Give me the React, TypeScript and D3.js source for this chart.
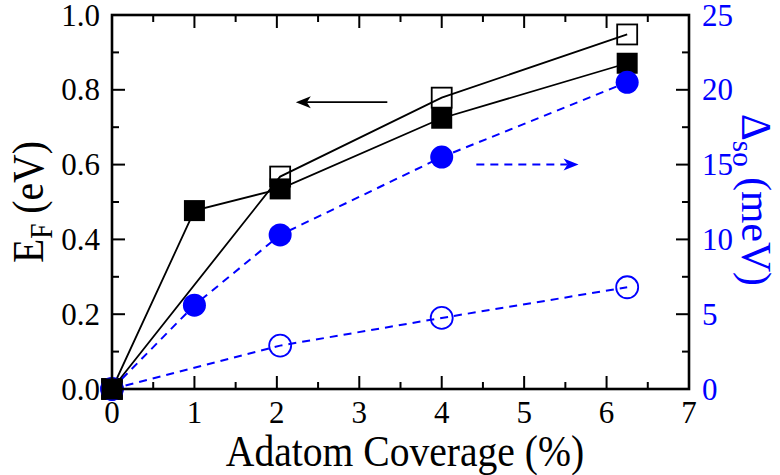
import React from "react";
import * as d3 from "d3";

// ---- data ----
const coverageFilledSq = [0, 1, 2.04, 4, 6.25];
const efFilledSq = [0, 0.477, 0.535, 0.724, 0.871];
const coverageOpenSq = [0, 2.04, 4, 6.25];
const efOpenSq = [0, 0.568, 0.779, 0.948];
const coverageFilledCirc = [0, 1, 2.04, 4, 6.25];
const soFilledCirc = [0, 5.6, 10.3, 15.5, 20.5];
const coverageOpenCirc = [0, 2.04, 4, 6.25];
const soOpenCirc = [0, 2.9, 4.75, 6.8];

const xTicks = [0, 1, 2, 3, 4, 5, 6, 7];
const xMinor = [0.5, 1.5, 2.5, 3.5, 4.5, 5.5, 6.5];
const yLeftTicks = [0, 0.2, 0.4, 0.6, 0.8, 1.0];
const yLeftMinor = [0.1, 0.3, 0.5, 0.7, 0.9];
const yRightTicks = [0, 5, 10, 15, 20, 25];
const yRightMinor = [2.5, 7.5, 12.5, 17.5, 22.5];

// annotation arrows (data coords)
const blackArrow = { y: 0.767, from: 3.34, to: 2.23 };
const blueArrow = { y: 15.0, from: 4.42, to: 5.66 };

const BLUE = "#0000ff";
const FONT = "Liberation Serif";

export default function App() {
  const x = d3.scaleLinear().domain([0, 7]).range([112, 689]);
  const yL = d3.scaleLinear().domain([0, 1]).range([389, 15]);
  const yR = d3.scaleLinear().domain([0, 25]).range([389, 15]);
  const [x0, x1] = x.range();
  const [yb, yt] = yL.range();

  const lineL = (xs: number[], ys: number[]) =>
    d3.line<number>().x((_, i) => x(xs[i])).y((v) => yL(v))(ys) || "";
  const lineR = (xs: number[], ys: number[]) =>
    d3.line<number>().x((_, i) => x(xs[i])).y((v) => yR(v))(ys) || "";

  const MAJ = 13;
  const MIN = 7;
  const sq = 21;

  const headLeft = (tx: number, ty: number) =>
    `M${tx},${ty} L${tx + 15},${ty - 6} L${tx + 11},${ty} L${tx + 15},${ty + 6} Z`;
  const headRight = (tx: number, ty: number) =>
    `M${tx},${ty} L${tx - 15},${ty - 6} L${tx - 11},${ty} L${tx - 15},${ty + 6} Z`;

  return (
    <svg width={780} height={475} style={{ position: "absolute", left: 0, top: 0 }}>
      <rect x={0} y={0} width={780} height={475} fill="#fff" />

      {/* ticks */}
      <g stroke="#000" strokeWidth={2}>
        {xTicks.map((t) => (
          <g key={"xt" + t}>
            <line x1={x(t)} x2={x(t)} y1={yb} y2={yb - MAJ} />
            <line x1={x(t)} x2={x(t)} y1={yt} y2={yt + MAJ} />
          </g>
        ))}
        {xMinor.map((t) => (
          <g key={"xm" + t}>
            <line x1={x(t)} x2={x(t)} y1={yb} y2={yb - MIN} />
            <line x1={x(t)} x2={x(t)} y1={yt} y2={yt + MIN} />
          </g>
        ))}
        {yLeftTicks.map((t) => (
          <line key={"yl" + t} x1={x0} x2={x0 + MAJ} y1={yL(t)} y2={yL(t)} />
        ))}
        {yLeftMinor.map((t) => (
          <line key={"ylm" + t} x1={x0} x2={x0 + MIN} y1={yL(t)} y2={yL(t)} />
        ))}
        {yRightTicks.map((t) => (
          <line key={"yr" + t} x1={x1} x2={x1 - MAJ} y1={yR(t)} y2={yR(t)} />
        ))}
        {yRightMinor.map((t) => (
          <line key={"yrm" + t} x1={x1} x2={x1 - MIN} y1={yR(t)} y2={yR(t)} />
        ))}
      </g>

      {/* arrows */}
      <line
        x1={x(blackArrow.from)}
        x2={x(blackArrow.to) + 11}
        y1={yL(blackArrow.y)}
        y2={yL(blackArrow.y)}
        stroke="#000"
        strokeWidth={1.8}
      />
      <path d={headLeft(x(blackArrow.to), yL(blackArrow.y))} fill="#000" />
      <line
        x1={x(blueArrow.from)}
        x2={x(blueArrow.to) - 11}
        y1={yR(blueArrow.y)}
        y2={yR(blueArrow.y)}
        stroke={BLUE}
        strokeWidth={2}
        strokeDasharray="8,6"
      />
      <path d={headRight(x(blueArrow.to), yR(blueArrow.y))} fill={BLUE} />

      {/* open squares */}
      <path d={lineL(coverageOpenSq, efOpenSq)} fill="none" stroke="#000" strokeWidth={1.8} />
      {efOpenSq.map((v, i) => (
        <rect
          key={"os" + i}
          x={x(coverageOpenSq[i]) - 10}
          y={yL(v) - 10}
          width={20}
          height={20}
          fill="none"
          stroke="#000"
          strokeWidth={1.8}
        />
      ))}

      {/* filled squares */}
      <path d={lineL(coverageFilledSq, efFilledSq)} fill="none" stroke="#000" strokeWidth={1.8} />
      {efFilledSq.map((v, i) => (
        <rect
          key={"fs" + i}
          x={x(coverageFilledSq[i]) - sq / 2}
          y={yL(v) - sq / 2}
          width={sq}
          height={sq}
          fill="#000"
        />
      ))}

      {/* open circles */}
      <path
        d={lineR(coverageOpenCirc, soOpenCirc)}
        fill="none"
        stroke={BLUE}
        strokeWidth={2}
        strokeDasharray="8,6"
      />
      {soOpenCirc.map((v, i) => (
        <circle
          key={"oc" + i}
          cx={x(coverageOpenCirc[i])}
          cy={yR(v)}
          r={11}
          fill="none"
          stroke={BLUE}
          strokeWidth={1.8}
        />
      ))}

      {/* filled circles */}
      <path
        d={lineR(coverageFilledCirc, soFilledCirc)}
        fill="none"
        stroke={BLUE}
        strokeWidth={2}
        strokeDasharray="8,6"
      />
      {soFilledCirc.map((v, i) => (
        <circle key={"fc" + i} cx={x(coverageFilledCirc[i])} cy={yR(v)} r={11.5} fill={BLUE} />
      ))}

      {/* origin square drawn on top */}
      <rect
        x={x(coverageFilledSq[0]) - sq / 2}
        y={yL(efFilledSq[0]) - sq / 2}
        width={sq}
        height={sq}
        fill="#000"
      />

      {/* frame */}
      <rect x={x0} y={yt} width={x1 - x0} height={yb - yt} fill="none" stroke="#000" strokeWidth={2.6} />

      {/* tick labels */}
      {xTicks.map((t) => (
        <text key={"xl" + t} fontFamily={FONT} fontSize={31} fill="#000" x={x(t)} y={423} textAnchor="middle">
          {String(t)}
        </text>
      ))}
      {yLeftTicks.map((t) => (
        <text key={"yll" + t} fontFamily={FONT} fontSize={31} fill="#000" x={100} y={yL(t) + 10.5} textAnchor="end">
          {d3.format(".1f")(t)}
        </text>
      ))}
      {yRightTicks.map((t) => (
        <text key={"yrl" + t} fontFamily={FONT} fontSize={31} fill={BLUE} x={702} y={yR(t) + 10.5} textAnchor="start">
          {String(t)}
        </text>
      ))}

      {/* axis titles */}
      <text
        fontFamily={FONT}
        fontSize={45}
        textAnchor="middle"
        fill="#000"
        transform="translate(405,466) scale(0.88,1)"
      >
        Adatom Coverage (%)
      </text>
      <text
        fontFamily={FONT}
        fontSize={45}
        textAnchor="middle"
        fill="#000"
        transform="translate(43,202) rotate(-90) scale(0.88,1)"
      >
        E<tspan fontSize={31} dy={9}>F</tspan>
        <tspan dy={-9}> (eV)</tspan>
      </text>
      <text
        fontFamily={FONT}
        fontSize={43}
        textAnchor="middle"
        fill={BLUE}
        transform="translate(742,200) rotate(90) scale(0.97,1)"
      >
        Δ<tspan fontSize={30} dy={9}>so</tspan>
        <tspan dy={-9}> (meV)</tspan>
      </text>
    </svg>
  );
}
